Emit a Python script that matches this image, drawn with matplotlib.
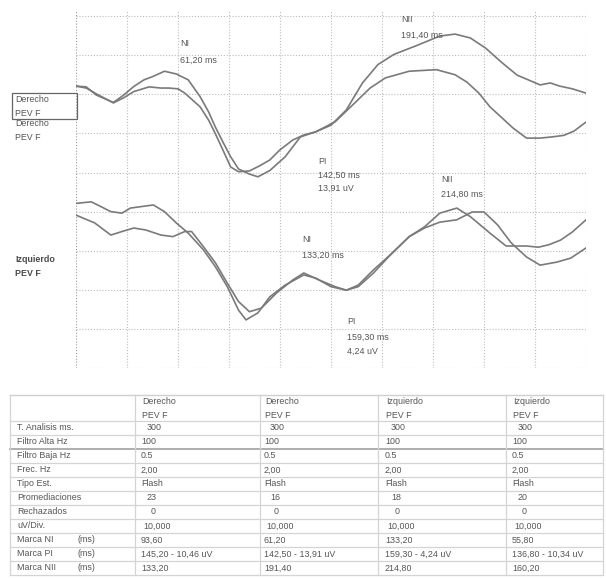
import matplotlib
matplotlib.use("Agg")
import matplotlib.pyplot as plt
from matplotlib.patches import Rectangle

plt.rcParams['font.family'] = ['Liberation Sans', 'DejaVu Sans']

W, H = 606, 578

# ---- Waveforms: latency (ms) vs amplitude (uV, display scale) ----
# Right eye (Derecho), two recordings
der1_t = [0, 6, 12, 22, 28, 34, 40, 45.5, 52, 59, 66, 73, 78, 82, 87, 91, 95.6, 102,
          107, 114, 123, 132, 141, 150, 159, 168.5, 177.6, 187, 200, 214, 223, 232,
          241, 250, 259.5, 266, 273, 279, 284.5, 292, 300]
der1_uv = [72.1, 71.9, 69.8, 67.9, 69.8, 72.0, 73.7, 74.6, 75.9, 75.2, 73.7, 69.4,
           65.5, 61.6, 57.3, 54.0, 50.9, 49.6, 48.9, 50.5, 54.0, 59.1, 60.4, 62.1,
           66.0, 72.9, 77.6, 80.2, 82.4, 84.9, 85.4, 84.4, 81.8, 78.3, 74.9, 73.7,
           72.4, 72.9, 72.1, 71.4, 70.3]

der2_t = [0, 6, 12, 22, 28, 34, 43, 50, 54.6, 60, 64, 73, 78, 82, 87, 91, 95.6, 102,
          108, 114, 120, 127.5, 134, 141, 152.5, 164, 173, 182, 196, 212, 223, 230,
          237, 243.5, 250, 257, 265, 273, 280, 287, 293, 300]
der2_uv = [72.1, 71.6, 70.1, 67.8, 69.1, 70.7, 71.9, 71.6, 71.6, 71.4, 70.3, 66.8,
           63.4, 59.9, 55.2, 51.4, 50.2, 50.4, 51.7, 53.2, 55.8, 58.3, 59.6, 60.4,
           63.0, 67.8, 71.6, 74.2, 75.9, 76.3, 75.0, 73.1, 70.3, 66.8, 64.2, 61.4,
           58.8, 58.8, 59.1, 59.5, 60.6, 62.9]

# Left eye (Izquierdo), two recordings
izq1_t = [0, 9, 20.5, 27, 32, 38.7, 45.5, 52, 59, 66, 75, 82, 89, 95.6, 100, 107,
          114, 123, 134, 141, 150, 159, 166, 175, 184, 196, 205, 214, 224, 232,
          243.5, 253, 265, 272, 278, 285, 292, 300]
izq1_uv = [42.1, 42.5, 40.0, 39.6, 40.9, 41.3, 41.7, 40.0, 37.1, 34.5, 30.2, 25.9,
           20.8, 14.8, 12.3, 14.1, 18.2, 21.2, 23.8, 23.0, 20.8, 19.9, 20.8, 24.3,
           28.5, 33.6, 36.1, 39.6, 40.9, 38.7, 34.5, 31.2, 31.2, 30.9, 31.5, 32.7,
           34.8, 37.9]

izq2_t = [0, 11, 20.5, 27, 34, 41, 50, 57, 64, 68, 75, 82, 89, 95.6, 102, 109, 118,
          127.5, 134, 143, 152.5, 159, 166, 175, 184, 196, 205, 214, 224, 233, 240,
          248, 256, 265, 273, 283, 291, 300]
izq2_uv = [39.1, 37.1, 34.0, 34.9, 35.8, 35.3, 34.0, 33.6, 34.9, 34.9, 31.0, 26.9,
           21.7, 17.0, 14.4, 15.3, 19.2, 22.5, 24.3, 22.5, 20.8, 19.9, 21.2, 25.1,
           28.6, 33.6, 35.8, 37.3, 37.9, 39.9, 39.9, 36.6, 32.0, 28.4, 26.3, 27.1,
           28.1, 30.7]

# Peak markers shown on the traces: (name, latency ms, extra line)
der_marks = [("NI", 61.20, None), ("NII", 191.40, None), ("PI", 142.50, "13,91 uV")]
izq_marks = [("NII", 214.80, None), ("NI", 133.20, None), ("PI", 159.30, "4,24 uV")]

# ---- Summary table ----
col_headers = ["Derecho\nPEV F", "Derecho\nPEV F", "Izquierdo\nPEV F", "Izquierdo\nPEV F"]
row_labels = ["T. Analisis ms.", "Filtro Alta Hz", "Filtro Baja Hz", "Frec. Hz",
              "Tipo Est.", "Promediaciones", "Rechazados", "uV/Div.",
              "Marca NI", "Marca PI", "Marca NII"]
t_analisis = ["300", "300", "300", "300"]
filtro_alta = ["100", "100", "100", "100"]
filtro_baja = ["0.5", "0.5", "0.5", "0.5"]
frec = ["2,00", "2,00", "2,00", "2,00"]
tipo_est = ["Flash", "Flash", "Flash", "Flash"]
promediaciones = ["23", "16", "18", "20"]
rechazados = ["0", "0", "0", "0"]
uv_div = ["10,000", "10,000", "10,000", "10,000"]
marca_ni = ["93,60", "61,20", "133,20", "55,80"]
marca_pi = ["145,20 - 10,46 uV", "142,50 - 13,91 uV", "159,30 - 4,24 uV", "136,80 - 10,34 uV"]
marca_nii = ["133,20", "191,40", "214,80", "160,20"]
table_rows = [t_analisis, filtro_alta, filtro_baja, frec, tipo_est, promediaciones,
              rechazados, uv_div, marca_ni, marca_pi, marca_nii]
row_indent = [6, 0, 0, 0, 0, 6, 10, 2, 0, 0, 0]

TXT = '#555555'
TRACE = '#7a7a7a'
GRID = '#bcbcbc'
FS = 6.4

fig = plt.figure(figsize=(W / 100, H / 100), dpi=100)
fig.patch.set_facecolor('white')

# Waveform panel
X0, X1, Y0, Y1 = 76, 586, 10, 368
PX_PER_UV = 3.91
ax = fig.add_axes([X0 / W, 1 - Y1 / H, (X1 - X0) / W, (Y1 - Y0) / H])
ax.set_xlim(0, 300)
ax.set_ylim(0, (Y1 - Y0) / PX_PER_UV)
ax.axis('off')
for t in range(0, 301, 30):
    c = '#9a9a9a' if t == 0 else GRID
    ax.axvline(t, color=c, lw=0.8, ls=(0, (1, 1.6)), zorder=0)
for v in range(0, 91, 10):
    ax.axhline(v, color=GRID, lw=0.8, ls=(0, (1, 1.6)), zorder=0)

for tt, vv in [(der1_t, der1_uv), (der2_t, der2_uv), (izq1_t, izq1_uv), (izq2_t, izq2_uv)]:
    ax.plot(tt, vv, color=TRACE, lw=1.2, zorder=2)


def v_at(ypx):
    return (Y1 - ypx) / PX_PER_UV


def fmt_ms(x):
    return f"{x:.2f}".replace('.', ',') + " ms"


# text rows (pixel y) for each marker label
der_rows = [(43, 60, None), (20, 35, None), (162, 175, 188)]
izq_rows = [(180, 194, None), (240, 255, None), (322, 337, 351)]
for marks, rows in [(der_marks, der_rows), (izq_marks, izq_rows)]:
    for (name, lat, extra), (y1, y2, y3) in zip(marks, rows):
        ax.text(lat, v_at(y1), name, fontsize=FS, color=TXT, va='center', ha='left')
        ax.text(lat, v_at(y2), fmt_ms(lat), fontsize=FS, color=TXT, va='center', ha='left')
        if extra:
            ax.text(lat, v_at(y3), extra, fontsize=FS, color=TXT, va='center', ha='left')

# Overlay in pixel coordinates for channel labels and table
ov = fig.add_axes([0, 0, 1, 1])
ov.set_xlim(0, W)
ov.set_ylim(H, 0)
ov.axis('off')

ov.add_patch(Rectangle((12, 93), 65, 26, fill=False, ec='#666666', lw=0.9))
ov.text(15, 100, "Derecho", fontsize=FS, color=TXT, va='center')
ov.text(15, 113, "PEV F", fontsize=FS, color=TXT, va='center')
ov.text(15, 123, "Derecho", fontsize=FS, color=TXT, va='center')
ov.text(15, 137, "PEV F", fontsize=FS, color=TXT, va='center')
ov.text(15, 260, "Izquierdo", fontsize=FS, color='#4a4a4a', va='center', fontweight='bold')
ov.text(15, 274, "PEV F", fontsize=FS, color='#4a4a4a', va='center', fontweight='bold')

# Table grid
TL, TR, TT, TB = 10, 603, 395, 575
col_lines = [TL, 135, 260, 378, 506, TR]
col_x = [141, 264, 385, 512]
row_top = 421
row_h = 14
ov.plot([TL, TR], [TT, TT], color='#cfcfcf', lw=1.0)
for i in range(len(row_labels) + 1):
    y = row_top + i * row_h
    c, lw = ('#a8a8a8', 1.3) if i == 2 else ('#d4d4d4', 0.9)
    ov.plot([TL, TR], [y, y], color=c, lw=lw)
for x in col_lines:
    ov.plot([x, x], [TT, TB], color='#d4d4d4', lw=0.9)

for j, hdr in enumerate(col_headers):
    a, b = hdr.split('\n')
    ov.text(col_x[j] + 1, 401, a, fontsize=FS, color=TXT, va='center')
    ov.text(col_x[j] + 1, 415, b, fontsize=FS, color=TXT, va='center')

for i, (lab, vals) in enumerate(zip(row_labels, table_rows)):
    y = row_top + i * row_h + row_h / 2
    ov.text(17, y, lab, fontsize=FS, color=TXT, va='center')
    if lab.startswith("Marca"):
        ov.text(77, y, "(ms)", fontsize=FS, color=TXT, va='center')
    for j, val in enumerate(vals):
        ov.text(col_x[j] + row_indent[i], y, val, fontsize=FS, color=TXT, va='center')

fig.savefig("out.png", dpi=100, facecolor='white')
